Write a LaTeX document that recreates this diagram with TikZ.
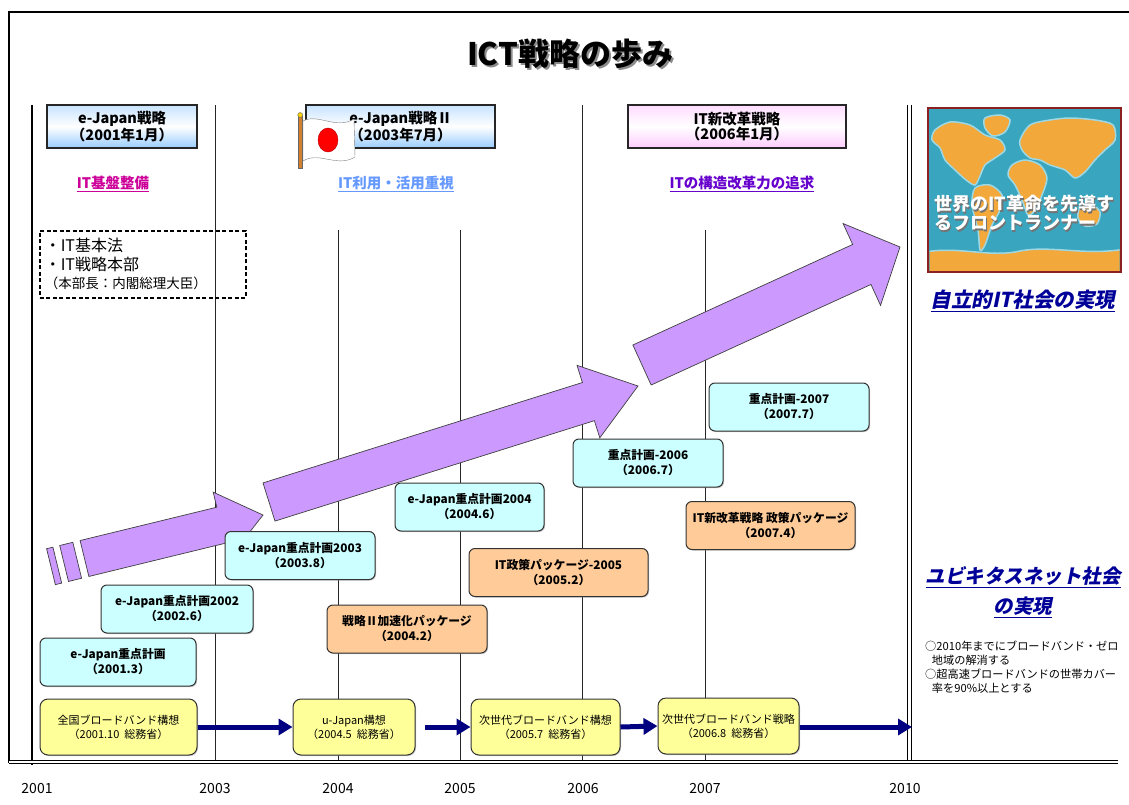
\documentclass[tikz,border=0pt]{standalone}
\usepackage{fontspec}
\setmainfont{Noto Sans CJK JP}
\newfontfamily\jpslant[FakeSlant=0.2]{Noto Sans CJK JP}
\usepackage{tikz}
\usetikzlibrary{arrows.meta,calc,shadows}

\definecolor{keycyan}{HTML}{CCFFFF}
\definecolor{pkgorange}{HTML}{FFCC99}
\definecolor{bbyellow}{HTML}{FFFF99}
\definecolor{trendpurple}{HTML}{CC99FF}
\definecolor{linknavy}{HTML}{000080}
\definecolor{hdrblue}{HTML}{99CCFF}
\definecolor{hdrpink}{HTML}{FFCCFF}
\definecolor{basemag}{HTML}{CC0099}
\definecolor{usesky}{HTML}{6699FF}
\definecolor{reformvio}{HTML}{6600CC}
\definecolor{goalblue}{HTML}{000099}
\definecolor{mapsea}{HTML}{3AA5BE}
\definecolor{mapland}{HTML}{F2A83A}
\definecolor{mapglow}{HTML}{9ED8E4}
\definecolor{mapedge}{HTML}{8C1F1F}

% fat arrow: tail centre, tip, half width, head half width, head length
\newcommand{\trendarrow}[5]{%
	\coordinate (hb) at ($(#2)!#5!(#1)$);
	\filldraw[trend] ($(#1)!#3!90:(#2)$) -- ($(hb)!#3!90:(#2)$) -- ($(hb)!#4!90:(#2)$) -- (#2)
		-- ($(hb)!#4!-90:(#2)$) -- ($(hb)!#3!-90:(#2)$) -- ($(#1)!#3!-90:(#2)$) -- cycle;}
% loose slice behind the tail: tail, tip, from, to, half width
\newcommand{\trendpiece}[5]{%
	\coordinate (pa) at ($(#1)!#3!(#2)$);
	\coordinate (pb) at ($(#1)!#4!(#2)$);
	\filldraw[trend] ($(pa)!#5!90:(#2)$) -- ($(pb)!#5!90:(#2)$) -- ($(pb)!#5!-90:(#2)$) -- ($(pa)!#5!-90:(#2)$) -- cycle;}

\begin{document}
\begin{tikzpicture}[x=1pt,y=-1pt,
		grid/.style={draw=black!85,line width=0.8pt},
		hdr/.style={draw=black!85,line width=1.2pt,minimum height=43pt,align=center,inner sep=1pt,font=\fontsize{14.5}{15}\selectfont\bfseries},
		keybox/.style={draw=black!80,line width=1pt,rounded corners=6pt,fill=keycyan,minimum height=48pt,align=center,inner sep=1pt,
			font=\fontsize{11.8}{15}\selectfont\bfseries,drop shadow={shadow xshift=1pt,shadow yshift=-1pt,fill=black!45}},
		pkgbox/.style={keybox,fill=pkgorange},
		bbbox/.style={keybox,fill=bbyellow,minimum height=56pt,rounded corners=8pt,font=\fontsize{11}{14}\selectfont},
		aim/.style={font=\fontsize{14.5}{16}\selectfont\bfseries},
		goal/.style={text=goalblue,align=center,font=\fontsize{19.5}{30}\selectfont\jpslant\bfseries},
		maptext/.style={anchor=west,align=left,inner sep=0pt,text=white,font=\fontsize{18}{19}\selectfont\bfseries},
		trend/.style={fill=trendpurple,draw=black!75,line width=0.7pt},
		link/.style={draw=linknavy,line width=5pt,-{Triangle[length=14pt,width=16pt]}},
		year/.style={font=\fontsize{14}{16}\selectfont}]

	\useasboundingbox (0,0) rectangle (1129,805);
	\draw[line width=1.2pt] (9,763) -- (9,12) -- (1129,12);

	\node[text=black!45,font=\fontsize{31}{33}\selectfont\bfseries] (titleshadow) at (572,56) {ICT戦略の歩み};
	\node[font=\fontsize{31}{33}\selectfont\bfseries] (title) at (570,54) {ICT戦略の歩み};

	% year lines
	\draw[line width=2.5pt] (32,105) -- (32,765);
	\foreach \x/\top in {215/105,338/230,460/230,582/105,705/230}
		\draw[grid] (\x,\top) -- (\x,763);
	\draw[line width=0.9pt,double,double distance=2.4pt] (909.5,105) -- (909.5,763);
	\draw[line width=0.9pt,double,double distance=2pt] (9,762) -- (1118,762);
	\foreach \x/\yr in {37/2001,215/2003,338/2004,460/2005,583/2006,705/2007,905/2010}
		\node[year] (yr\yr) at (\x,788) {\yr};

	% strategies
	\node[hdr,top color=hdrblue!55!white,bottom color=hdrblue,middle color=white,minimum width=150pt] (ej1) at (122,126.5) {e-Japan戦略\\（2001年1月）};
	\node[hdr,top color=hdrblue!55!white,bottom color=hdrblue,middle color=white,minimum width=189pt] (ej2) at (400.5,126.5) {e-Japan戦略Ⅱ\\（2003年7月）};
	\node[hdr,top color=hdrpink!70!white,bottom color=hdrpink,middle color=white,minimum width=218pt] (itn) at (737,126.5) {IT新改革戦略\\（2006年1月）};

	\fill[fill=brown!70!orange,draw=black!60] (298,116) rectangle (302.5,168);
	\filldraw[fill=yellow!70!orange,draw=black!60] (300.2,115) circle (2.5pt);
	\filldraw[fill=white,draw=black!50] (303,121) .. controls (318,113) and (336,130) .. (354,119) -- (355,157)
		.. controls (337,168) and (319,151) .. (303,161) -- cycle;
	\filldraw[fill=red,draw=red!70!black] (328,140) ellipse (10pt and 12pt);

	\node[aim,text=basemag] (aim1) at (113,184) {\underline{IT基盤整備}};
	\node[aim,text=usesky] (aim2) at (396,184) {\underline{IT利用・活用重視}};
	\node[aim,text=reformvio] (aim3) at (742,184) {\underline{ITの構造改革力の追求}};

	\node[draw,line width=1.5pt,dash pattern=on 4pt off 2.5pt,anchor=north west,minimum width=206pt,minimum height=67pt,text width=196pt,align=left,
		inner xsep=5pt,inner ysep=3pt,font=\fontsize{16}{18.5}\selectfont] (law) at (39,230)
		{・IT基本法\\・IT戦略本部\\{\fontsize{13.5}{18}\selectfont （本部長：内閣総理大臣）}};

	% rising arrows
	\trendpiece{84.5,558.5}{263,515}{-34.5pt}{-28pt}{18.5pt}
	\trendpiece{84.5,558.5}{263,515}{-21pt}{-7.5pt}{18.5pt}
	\trendarrow{84.5,558.5}{263,515}{18.5pt}{34pt}{43pt}
	\trendarrow{269,502}{638,386}{20pt}{38pt}{52pt}
	\trendarrow{642,365}{900,247}{22pt}{45pt}{42pt}

	% priority programmes
	\node[keybox,minimum width=156pt] (k2001) at (118,662) {e-Japan重点計画\\（2001.3）};
	\node[keybox,minimum width=152pt] (k2002) at (177,609) {e-Japan重点計画2002\\（2002.6）};
	\node[keybox,minimum width=150pt] (k2003) at (300,555.5) {e-Japan重点計画2003\\（2003.8）};
	\node[keybox,minimum width=149pt] (k2004) at (469.5,507) {e-Japan重点計画2004\\（2004.6）};
	\node[keybox,minimum width=150pt] (k2006) at (648,463) {重点計画-2006\\（2006.7）};
	\node[keybox,minimum width=160pt] (k2007) at (789,407) {重点計画-2007\\（2007.7）};
	\node[pkgbox,minimum width=160pt] (p2004) at (407,629) {戦略Ⅱ加速化パッケージ\\（2004.2）};
	\node[pkgbox,minimum width=179pt] (p2005) at (558.5,572.5) {IT政策パッケージ-2005\\（2005.2）};
	\node[pkgbox,minimum width=169pt] (p2007) at (770.5,525.5) {IT新改革戦略 政策パッケージ\\（2007.4）};

	% broadband plans
	\node[bbbox,minimum width=157pt] (bb2001) at (118.5,727) {全国ブロードバンド構想\\（2001.10\ \ 総務省）};
	\node[bbbox,minimum width=122pt] (uj2004) at (354,727) {u-Japan構想\\（2004.5\ \ 総務省）};
	\node[bbbox,minimum width=149pt] (bb2005) at (545.5,727) {次世代ブロードバンド構想\\（2005.7\ \ 総務省）};
	\node[bbbox,minimum width=141pt] (bb2006) at (728.5,726) {次世代ブロードバンド戦略\\（2006.8\ \ 総務省）};
	\coordinate (goal2010) at (912,727);
	\draw[link] (bb2001.east) -- (uj2004.west);
	\draw[link] ([xshift=9pt]uj2004.east) -- (bb2005.west);
	\draw[link] (bb2005.east) -- (bb2006.west);
	\draw[link] (bb2006.east |- goal2010) -- (goal2010);

	% world map
	\draw[mapedge,line width=2pt,fill=mapsea] (928,108) rectangle (1121,272);
	\begin{scope}
		\clip (929.5,109.5) rectangle (1119.5,270.5);
		\filldraw[fill=mapland,draw=mapglow,line width=1.5pt] plot[smooth cycle] coordinates {(935,130) (950,122) (970,125) (985,135) (1000,140) (1005,150) (995,158) (985,165) (980,176) (975,185) (966,180) (955,170) (945,160) (940,148) (932,140)};
		\filldraw[fill=mapland,draw=mapglow,line width=1.5pt] plot[smooth cycle] coordinates {(985,118) (1000,115) (1010,120) (1005,132) (993,136) (985,128)};
		\filldraw[fill=mapland,draw=mapglow,line width=1.5pt] plot[smooth cycle] coordinates {(975,188) (990,185) (1002,195) (1000,210) (992,225) (985,245) (980,250) (978,230) (972,205)};
		\filldraw[fill=mapland,draw=mapglow,line width=1.5pt] plot[smooth cycle] coordinates {(1020,140) (1030,125) (1050,120) (1070,118) (1095,120) (1113,125) (1115,140) (1105,150) (1095,160) (1085,172) (1075,178) (1065,170) (1050,165) (1040,160) (1030,158) (1022,150)};
		\filldraw[fill=mapland,draw=mapglow,line width=1.5pt] plot[smooth cycle] coordinates {(1012,165) (1025,160) (1040,165) (1047,178) (1042,195) (1035,210) (1028,215) (1022,200) (1015,185) (1008,175)};
		\filldraw[fill=mapland,draw=mapglow,line width=1.5pt] plot[smooth cycle] coordinates {(1080,208) (1092,205) (1100,212) (1097,224) (1085,226) (1078,218)};
		\filldraw[fill=mapland,draw=mapglow,line width=1.5pt] (925,275) -- (925,252) .. controls (960,246) and (990,258) .. (1020,251) .. controls (1050,245) and (1085,256) .. (1125,249) -- (1125,275) -- cycle;
	\end{scope}
	\node[maptext,text=black!55] (leadshadow) at (935.5,214.5) {世界のIT革命を先導す\\るフロントランナー};
	\node[maptext] (lead) at (934,213) {世界のIT革命を先導す\\るフロントランナー};

	% goals
	\node[goal,font=\fontsize{20.5}{30}\selectfont\jpslant\bfseries] (selfit) at (1023,301) {\underline{自立的IT社会の実現}};
	\node[goal] (ubiq) at (1023,592) {\underline{ユビキタスネット社会}\\\underline{の実現}};
	\node[anchor=north west,align=left,inner sep=0pt,font=\fontsize{11.2}{14}\selectfont] (aims) at (925,641)
		{○2010年までにブロードバンド・ゼロ\\\hspace{0.6em}地域の解消する\\○超高速ブロードバンドの世帯カバー\\\hspace{0.6em}率を90\%以上とする};
\end{tikzpicture}
\end{document}
